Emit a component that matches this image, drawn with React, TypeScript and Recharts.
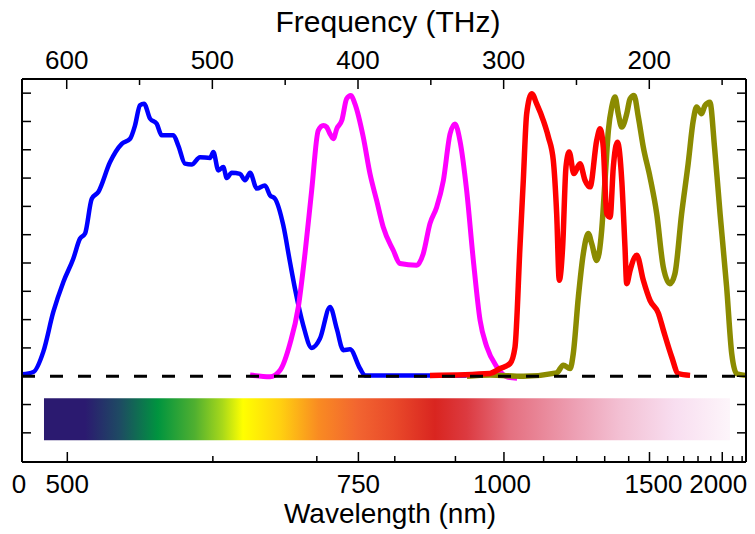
import React from "react";
import { LineChart, Line, XAxis, YAxis, ReferenceLine, ReferenceArea } from "recharts";

// speed of light in nm*THz, to place wavelength ticks on the frequency axis
const C = 299792.458;

// axis ticks
const freqTicks = [600, 550, 500, 450, 400, 350, 300, 250, 200, 150];
const freqLabels = [600, 500, 400, 300, 200];
const wlTicks = [500, 600, 700, 750, 800, 900, 1000, 1100, 1200, 1300, 1400, 1500, 1600, 1700, 1800, 1900, 2000, 2100, 2200];
const wlLabels = [500, 750, 1000, 1500, 2000];
const yTicks = [-2, -1, 0, 1, 2, 3, 4, 5, 6, 7, 8, 9, 10];
const X_DOMAIN: [number, number] = [133.6, 630.7];
const Y_DOMAIN: [number, number] = [-3.03, 10.5];

// spectra (frequency in THz, intensity)
const blueFreq = [630.7, 622.9, 616.1, 609.2, 602.3, 595.5, 590.9, 587.4, 582.8, 578.3, 570.3, 562.2, 556.5, 553.1, 549.7, 546.9, 542.8, 538.2, 534.8, 526.8, 523.4, 518.8, 514.2, 508.5, 501.6, 499.3, 495.9, 492.5, 490.1, 486.7, 481.0, 477.6, 474.1, 469.5, 463.9, 460.4, 457.0, 451.3, 446.7, 443.3, 437.6, 431.8, 426.1, 419.2, 414.6, 410.1, 405.5, 398.6, 395.2, 325.4];
const blueVal = [0.07, 0.15, 0.86, 2.27, 3.33, 4.15, 4.86, 5.04, 6.27, 6.51, 7.56, 8.21, 8.39, 8.86, 9.57, 9.63, 9.1, 8.92, 8.51, 8.51, 8.15, 7.51, 7.48, 7.74, 7.71, 7.92, 7.27, 7.39, 7.0, 7.19, 7.15, 6.92, 7.19, 6.63, 6.74, 6.39, 6.27, 5.33, 4.03, 3.1, 1.8, 1.0, 1.33, 2.45, 1.68, 0.92, 0.95, 0.27, 0.03, 0.03];

const magFreq = [474.1, 460.4, 453.5, 446.7, 441.0, 436.4, 431.8, 427.3, 423.8, 421.5, 419.2, 416.9, 414.6, 411.1, 407.8, 405.0, 402.1, 396.4, 391.8, 387.2, 382.7, 375.8, 371.2, 359.7, 355.2, 350.6, 346.0, 341.4, 336.8, 333.4, 330.0, 325.4, 320.8, 316.2, 311.6, 304.7, 297.8, 290.8];
const magVal = [0.04, -0.02, 0.21, 1.15, 2.44, 4.33, 6.57, 8.68, 8.86, 8.8, 8.56, 8.39, 8.74, 9.04, 9.8, 9.92, 9.62, 8.45, 7.16, 6.21, 5.27, 4.45, 3.98, 3.92, 4.33, 5.39, 5.97, 6.91, 8.56, 8.91, 8.32, 6.56, 4.09, 1.98, 1.04, 0.33, -0.02, -0.07];

const redFreq = [350.6, 309.4, 302.5, 295.6, 292.2, 288.8, 286.5, 284.2, 280.7, 277.3, 272.8, 269.3, 265.9, 263.6, 261.8, 259.5, 257.2, 255.0, 251.8, 247.6, 244.1, 240.7, 236.1, 233.8, 231.6, 229.2, 226.9, 224.7, 221.9, 218.9, 216.7, 215.5, 213.2, 208.6, 204.1, 199.5, 193.8, 190.3, 184.6, 180.1, 172.0];
const redVal = [0.03, 0.1, 0.27, 0.45, 1.03, 4.57, 6.92, 9.27, 9.98, 9.62, 9.04, 8.45, 7.62, 5.74, 3.39, 4.56, 7.39, 7.92, 7.16, 7.51, 6.92, 6.69, 8.33, 8.74, 8.09, 5.74, 5.62, 7.39, 8.27, 6.92, 4.57, 3.27, 3.74, 4.27, 3.39, 2.68, 2.23, 1.62, 0.68, 0.09, 0.03];

const oliveFreq = [325.2, 309.4, 286.5, 263.6, 259.0, 254.4, 252.2, 248.7, 245.3, 241.9, 239.5, 236.1, 232.7, 230.4, 228.1, 225.8, 223.5, 221.3, 218.9, 215.5, 213.2, 210.5, 207.5, 204.1, 199.5, 194.9, 190.4, 185.8, 182.4, 177.8, 173.3, 169.8, 167.5, 164.1, 161.8, 158.4, 155.2, 151.4, 146.9, 143.4, 140.0, 134.2];
const oliveVal = [0, 0.04, 0.0, 0.12, 0.39, 0.27, 0.8, 2.8, 4.33, 5.04, 4.68, 4.09, 5.15, 6.92, 8.68, 9.51, 9.86, 9.27, 8.8, 9.27, 9.8, 9.92, 9.15, 8.09, 7.03, 5.74, 3.86, 3.27, 3.62, 5.74, 7.51, 9.04, 9.51, 9.27, 9.56, 9.68, 8.09, 5.74, 3.15, 0.8, 0.09, 0.03];

// visible-to-IR colour bar: frequency span and intensity span
const cbarFreq = [615.6, 144.6];
const cbarY = [-0.78, -2.26];
const cbarStops: [number, string][] = [
  [0, "#2b1a70"], [0.06, "#2b1a70"], [0.11, "#1e4a63"], [0.166, "#00943f"],
  [0.22, "#50b030"], [0.26, "#a8d81a"], [0.29, "#ffff00"], [0.345, "#ffd010"],
  [0.4, "#f98b22"], [0.457, "#f26530"], [0.51, "#e94a2a"], [0.57, "#d92520"],
  [0.616, "#dc3a40"], [0.68, "#e57080"], [0.775, "#eda0b4"], [0.84, "#f3c0d3"],
  [0.92, "#f8def0"], [1, "#fdf5fa"],
];

const toPoints = (f: number[], v: number[]) => f.map((x, i) => ({ f: x, v: v[i] }));

const FONT = "'Liberation Sans', Arial, sans-serif";

function TopTick(props: any) {
  const { x, y, payload } = props;
  const major = freqLabels.includes(payload.value);
  return (
    <g>
      <line x1={x} y1={y} x2={x} y2={y + (major ? 10 : 6)} stroke="#000" strokeWidth={1.5} />
      {major && (
        <text x={x} y={y - 10} textAnchor="middle" fontSize={26} fontFamily={FONT} fill="#000">
          {payload.value}
        </text>
      )}
    </g>
  );
}

function BottomTick(props: any) {
  const { x, y, payload } = props;
  if (payload.value === X_DOMAIN[1]) {
    return (
      <text x={x - 3} y={y + 31} textAnchor="middle" fontSize={26} fontFamily={FONT} fill="#000">
        0
      </text>
    );
  }
  const wl = Math.round(C / payload.value);
  const major = wlLabels.includes(wl);
  const dx = wl === 1500 ? 4 : wl === 2000 ? -4 : wl === 1000 ? -2 : 0;
  return (
    <g>
      <line x1={x} y1={y} x2={x} y2={y - (major ? 10 : 6)} stroke="#000" strokeWidth={1.5} />
      {major && (
        <text x={x + dx} y={y + 31} textAnchor="middle" fontSize={26} fontFamily={FONT} fill="#000">
          {wl}
        </text>
      )}
    </g>
  );
}

function LeftTick(props: any) {
  const { x, y } = props;
  return <line x1={x} y1={y} x2={x + 9} y2={y} stroke="#000" strokeWidth={1.5} />;
}

function RightTick(props: any) {
  const { x, y } = props;
  return <line x1={x} y1={y} x2={x - 9} y2={y} stroke="#000" strokeWidth={1.5} />;
}

function AxisTitle(props: any) {
  const { viewBox, text, dx, dy, size } = props;
  const vb = viewBox || { x: 0, y: 0, width: 0 };
  return (
    <text x={vb.x + vb.width / 2 + dx} y={vb.y + dy} textAnchor="middle" fontSize={size} fontFamily={FONT} fill="#000">
      {text}
    </text>
  );
}

export default function App() {
  const axisLine = { stroke: "#000", strokeWidth: 2 };
  return (
    <div style={{ position: "absolute", left: 0, top: 0, background: "#fff", fontFamily: FONT }}>
      <LineChart width={755} height={534} margin={{ top: 78, right: 8, bottom: 71, left: 21 }}>
        <defs>
          <linearGradient id="cbar" x1="0" y1="0" x2="1" y2="0">
            {cbarStops.map(([o, c]) => (
              <stop key={o} offset={o} stopColor={c} />
            ))}
          </linearGradient>
        </defs>
        <XAxis
          xAxisId="freq"
          orientation="top"
          type="number"
          dataKey="f"
          domain={X_DOMAIN}
          reversed
          allowDataOverflow
          ticks={freqTicks}
          interval={0}
          height={1}
          tickSize={0}
          tickMargin={0}
          tickLine={false}
          axisLine={axisLine}
          tick={<TopTick />}
          label={<AxisTitle text="Frequency (THz)" dx={4} dy={-46} size={30} />}
        />
        <XAxis
          xAxisId="wl"
          orientation="bottom"
          type="number"
          dataKey="f"
          domain={X_DOMAIN}
          reversed
          allowDataOverflow
          ticks={[X_DOMAIN[1], ...wlTicks.map((l) => C / l)]}
          interval={0}
          height={1}
          tickSize={0}
          tickMargin={0}
          tickLine={false}
          axisLine={axisLine}
          tick={<BottomTick />}
          label={<AxisTitle text="Wavelength (nm)" dx={6} dy={61} size={28} />}
        />
        <YAxis
          yAxisId="l"
          orientation="left"
          type="number"
          domain={Y_DOMAIN}
          allowDataOverflow
          ticks={yTicks}
          interval={0}
          width={1}
          tickSize={0}
          tickMargin={0}
          tickLine={false}
          axisLine={axisLine}
          tick={<LeftTick />}
        />
        <YAxis
          yAxisId="r"
          orientation="right"
          type="number"
          domain={Y_DOMAIN}
          allowDataOverflow
          ticks={yTicks}
          interval={0}
          width={1}
          tickSize={0}
          tickMargin={0}
          tickLine={false}
          axisLine={axisLine}
          tick={<RightTick />}
        />
        <ReferenceArea
          xAxisId="freq"
          yAxisId="l"
          x1={cbarFreq[0]}
          x2={cbarFreq[1]}
          y1={cbarY[0]}
          y2={cbarY[1]}
          fill="url(#cbar)"
          fillOpacity={1}
          stroke="none"
        />
        <Line xAxisId="freq" yAxisId="l" data={toPoints(blueFreq, blueVal)} dataKey="v" type="monotone"
          stroke="#0000ff" strokeWidth={4.5} dot={false} activeDot={false} isAnimationActive={false} />
        <Line xAxisId="freq" yAxisId="l" data={toPoints(magFreq, magVal)} dataKey="v" type="monotone"
          stroke="#ff00ff" strokeWidth={5} dot={false} activeDot={false} isAnimationActive={false} />
        <Line xAxisId="freq" yAxisId="l" data={toPoints(oliveFreq, oliveVal)} dataKey="v" type="monotone"
          stroke="#8b8b00" strokeWidth={5.5} dot={false} activeDot={false} isAnimationActive={false} />
        <Line xAxisId="freq" yAxisId="l" data={toPoints(redFreq, redVal)} dataKey="v" type="monotone"
          stroke="#ff0000" strokeWidth={5.5} dot={false} activeDot={false} isAnimationActive={false} />
        <ReferenceLine xAxisId="freq" yAxisId="l" y={0} stroke="#000" strokeWidth={3} strokeDasharray="13 15" />
      </LineChart>
    </div>
  );
}
